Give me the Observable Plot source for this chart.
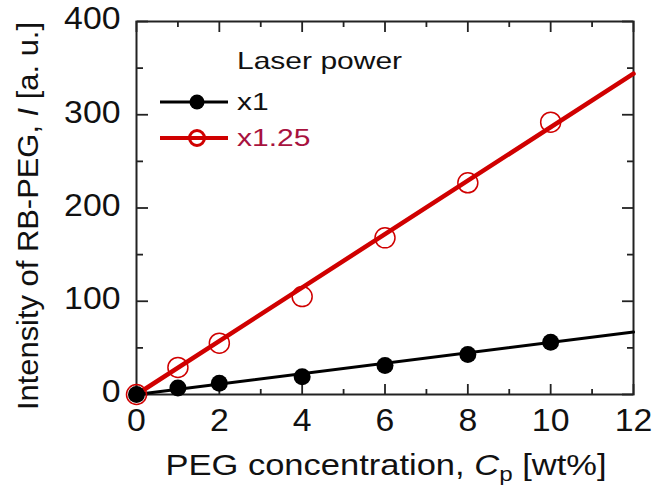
<!DOCTYPE html>
<html><head><meta charset="utf-8">
<script src="https://cdn.jsdelivr.net/npm/d3@7"></script>
<script src="https://cdn.jsdelivr.net/npm/@observablehq/plot@0.6"></script>
<style>
html,body{margin:0;padding:0;background:#fff;}
#chart{width:654px;height:488px;}
</style>
</head><body><div id="chart"></div>
<script>
// ---- data ----
const concentration = [0, 1, 2, 4, 6, 8, 10];          // PEG concentration, wt%
const intensityX1   = [0, 7, 12, 19, 31, 43, 56];       // laser power x1
const intensityX125 = [0, 29, 55, 105, 168, 227, 292];  // laser power x1.25
const fitRange = [0, 12];
const fitX1    = [0, 67];
const fitX125  = [0, 344];
const xTicks = [0, 2, 4, 6, 8, 10, 12];
const xMinor = [1, 3, 5, 7, 9, 11];
const yTicks = [0, 100, 200, 300, 400];
const yMinor = [50, 150, 250, 350];
const seriesNames = ["x1", "x1.25"];
const legendTitle = "Laser power";
const xTitle = ["PEG concentration, ", "C", "p", " [wt%]"];
const yTitle = ["Intensity of RB-PEG, ", "I", " [a. u.]"];

const black = "#000000", red = "#d00000", redText = "#a8123e", axisColor = "#222";
const font = "'Liberation Sans', Arial, Helvetica, sans-serif";

const pts1 = concentration.map((c, i) => ({c, v: intensityX1[i]}));
const pts2 = concentration.map((c, i) => ({c, v: intensityX125[i]}));
const fit1 = fitRange.map((c, i) => ({c, v: fitX1[i]}));
const fit2 = fitRange.map((c, i) => ({c, v: fitX125[i]}));

const W = 654, H = 488;
const tickOpts = {fill: "none", label: null, stroke: axisColor, strokeWidth: 1.8};
const svg = Plot.plot({
  width: W, height: H,
  marginLeft: 136, marginRight: 21, marginTop: 21, marginBottom: 94,
  style: {fontFamily: font, fontSize: "31px", color: "#111", background: "#fff", overflow: "visible"},
  x: {domain: [0, 12]},
  y: {domain: [0, 400]},
  marks: [
    // inward ticks on all four sides
    Plot.axisX(xTicks, {anchor: "top", frameAnchor: "bottom", tickSize: 11, ...tickOpts}),
    Plot.axisX(xMinor, {anchor: "top", frameAnchor: "bottom", tickSize: 6, ...tickOpts}),
    Plot.axisX(xTicks, {anchor: "bottom", frameAnchor: "top", tickSize: 11, ...tickOpts}),
    Plot.axisX(xMinor, {anchor: "bottom", frameAnchor: "top", tickSize: 6, ...tickOpts}),
    Plot.axisY(yTicks, {anchor: "right", frameAnchor: "left", tickSize: 11, ...tickOpts}),
    Plot.axisY(yMinor, {anchor: "right", frameAnchor: "left", tickSize: 6, ...tickOpts}),
    Plot.axisY(yTicks, {anchor: "left", frameAnchor: "right", tickSize: 11, ...tickOpts}),
    Plot.axisY(yMinor, {anchor: "left", frameAnchor: "right", tickSize: 6, ...tickOpts}),
    // tick labels
    Plot.axisX(xTicks, {anchor: "bottom", tickSize: 0, tickPadding: 14, label: null, fill: "#111", fontSize: 31}),
    Plot.axisY(yTicks, {anchor: "left", tickSize: 0, tickPadding: 16, label: null, fill: "#111", fontSize: 31, dy: -2}),
    Plot.frame({stroke: axisColor, strokeWidth: 2}),
    // data
    Plot.line(fit2, {x: "c", y: "v", stroke: red, strokeWidth: 4.5}),
    Plot.line(fit1, {x: "c", y: "v", stroke: black, strokeWidth: 3}),
    Plot.dot(pts1, {x: "c", y: "v", r: 8.5, fill: black, stroke: "none"}),
    Plot.dot(pts2, {x: "c", y: "v", r: 10, fill: "none", stroke: red, strokeWidth: 1.5})
  ]
});
document.getElementById("chart").appendChild(svg);

const s = d3.select(svg);
function stretch(el, f) {
  const w = el.getComputedTextLength();
  if (w > 0) {
    el.setAttribute("textLength", (w * f).toFixed(1));
    el.setAttribute("lengthAdjust", "spacingAndGlyphs");
  }
}
// reference lettering is horizontally wide: stretch all tick labels
s.selectAll("text").each(function() { stretch(this, 1.09); });

// x-axis title
const xt = s.append("text").attr("x", 386).attr("y", 475).attr("text-anchor", "middle")
  .attr("font-family", font).attr("font-size", 30).attr("fill", "#111");
xt.append("tspan").text(xTitle[0]);
xt.append("tspan").attr("font-style", "italic").text(xTitle[1]);
xt.append("tspan").attr("font-size", 21).attr("dy", 6).text(xTitle[2]);
xt.append("tspan").attr("dy", -6).text(xTitle[3]);
stretch(xt.node(), 1.15);

// y-axis title
const yt = s.append("text").attr("transform", "translate(38,216) rotate(-90)").attr("text-anchor", "middle")
  .attr("font-family", font).attr("font-size", 30).attr("fill", "#111");
yt.append("tspan").text(yTitle[0]);
yt.append("tspan").attr("font-style", "italic").text(yTitle[1]);
yt.append("tspan").text(yTitle[2]);
stretch(yt.node(), 1.03);

// legend
const lg = s.append("g").attr("font-family", font).attr("font-size", 24).attr("text-anchor", "start");
const t0 = lg.append("text").attr("x", 237).attr("y", 69).attr("fill", "#111").text(legendTitle);
stretch(t0.node(), 1.25);
const rows = [
  {name: seriesNames[0], y: 102, color: black, text: "#111", filled: true},
  {name: seriesNames[1], y: 138, color: red, text: redText, filled: false}
];
rows.forEach(r => {
  lg.append("line").attr("x1", 160).attr("x2", 228).attr("y1", r.y).attr("y2", r.y)
    .attr("stroke", r.color).attr("stroke-width", r.filled ? 3 : 4);
  lg.append("circle").attr("cx", 197).attr("cy", r.y).attr("r", 7.5)
    .attr("fill", r.filled ? r.color : "none").attr("stroke", r.color).attr("stroke-width", r.filled ? 0 : 3);
  const t = lg.append("text").attr("x", 237).attr("y", r.y + 8).attr("fill", r.text).text(r.name);
  stretch(t.node(), 1.25);
});
</script>
</body></html>
